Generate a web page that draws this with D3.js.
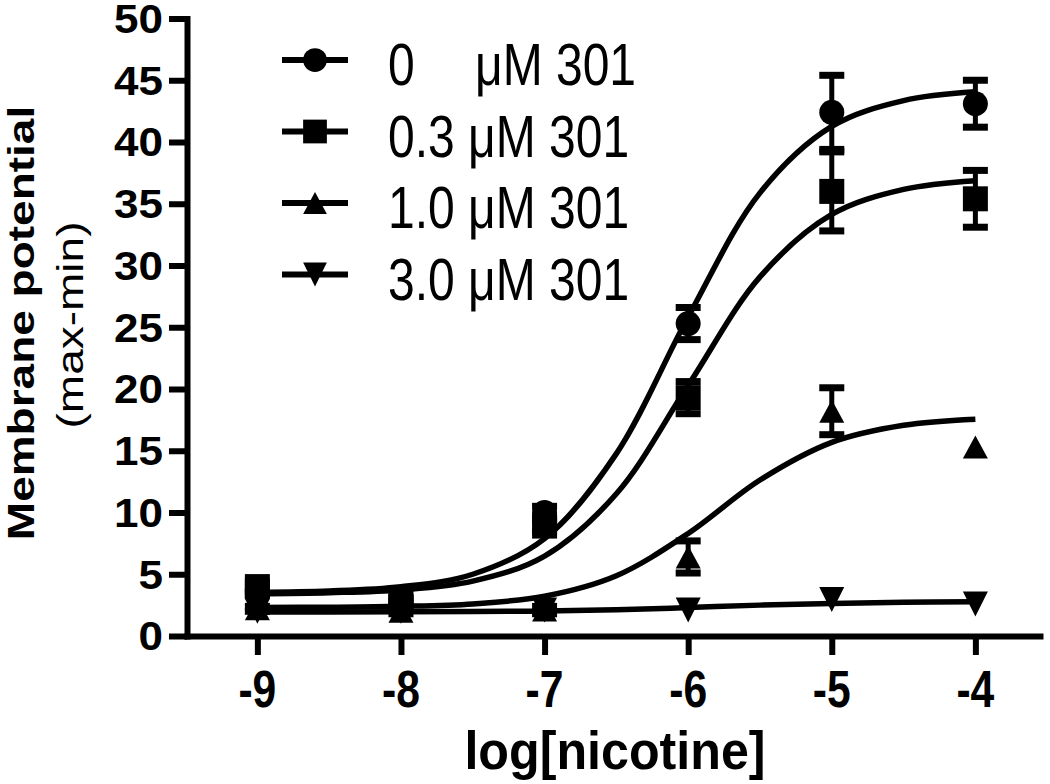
<!DOCTYPE html>
<html>
<head>
<meta charset="utf-8">
<script src="https://cdn.jsdelivr.net/npm/d3@7"></script>
<style>
  html, body { margin: 0; padding: 0; background: #fff; }
  svg { display: block; }
  text { font-family: "Liberation Sans", Arial, Helvetica, sans-serif; fill: #000; }
</style>
</head>
<body>
<svg id="chart" width="1050" height="784"></svg>
<script>
// ---------- data ----------
const logNicotine = [-9, -8, -7, -6, -5, -4];
const seriesNames = ["0", "0.3", "1.0", "3.0"];
const legendUnit = "\u03bcM 301";

const mean0   = [3.6, 2.8, 10.0, 25.3, 42.4, 43.1];
const sem0    = [0.3, 0.3, 0.5, 1.3, 3.0, 1.9];
const mean03  = [4.0, 2.8, 8.9, 19.3, 36.0, 35.4];
const sem03   = [0.4, 0.3, 0.4, 1.3, 3.2, 2.3];
const mean10  = [2.2, 2.0, 2.1, 6.4, 18.2, 15.3];
const sem10   = [0.2, 0.2, 0.3, 1.3, 1.9, 0];
const mean30  = [2.0, 2.0, 2.1, 2.1, 2.95, 2.6];
const sem30   = [0, 0, 0, 0, 0, 0];

// fitted curves, read at half-log steps
const curveX  = [-9, -8.5, -8, -7.5, -7, -6.5, -6, -5.5, -5, -4.5, -4];
const fit0    = [3.55, 3.65, 3.99, 5.00, 7.89, 14.77, 25.83, 35.88, 41.26, 43.35, 44.06];
const fit03   = [3.43, 3.51, 3.73, 4.44, 6.47, 11.52, 20.3, 29.08, 34.13, 36.16, 36.87];
const fit10   = [2.31, 2.33, 2.40, 2.60, 3.22, 4.88, 8.30, 12.63, 15.68, 17.06, 17.56];
const fit30   = [1.95, 1.95, 1.96, 1.98, 2.02, 2.12, 2.30, 2.50, 2.64, 2.73, 2.78];

const xTicks = [-9, -8, -7, -6, -5, -4];
const yTicks = [0, 5, 10, 15, 20, 25, 30, 35, 40, 45, 50];
const xTitle = "log[nicotine]";
const yTitle = "Membrane potential";
const ySubTitle = "(max-min)";

// ---------- drawing ----------
const svg = d3.select("#chart");
const x = d3.scaleLinear().domain([-9.49, -3.55]).range([187, 1040]);
const y = d3.scaleLinear().domain([0, 50]).range([636, 18.5]);
const SQ = 0.82; // horizontal squeeze of the original figure

// axes
const yAxis = d3.axisLeft(y).tickValues(yTicks).tickSize(18).tickSizeOuter(0).tickFormat("");
const gy = svg.append("g").attr("transform", "translate(187,0)").call(yAxis);
const xAxis = d3.axisBottom(x).tickValues(xTicks).tickSize(19).tickSizeOuter(0).tickFormat("");
const gx = svg.append("g").attr("transform", "translate(0,636)").call(xAxis);
[gx, gy].forEach(g => {
  g.selectAll("path.domain").attr("stroke", "#000").attr("stroke-width", 6).attr("stroke-linecap", "square");
  g.selectAll(".tick line").attr("stroke", "#000").attr("stroke-width", 6);
});

// y tick labels
svg.append("g").selectAll("g").data(yTicks).join("g")
  .attr("transform", d => `translate(163,${y(d)}) scale(1.1,1)`)
  .append("text")
  .attr("text-anchor", "end").attr("dy", "0.36em")
  .style("font-size", "40px").style("font-weight", "bold")
  .text(d => d);

// x tick labels
svg.append("g").selectAll("g").data(xTicks).join("g")
  .attr("transform", d => `translate(${x(d)},707) scale(${SQ},1)`)
  .append("text")
  .attr("text-anchor", "middle")
  .style("font-size", "52px").style("font-weight", "bold")
  .text(d => d);

// axis titles
svg.append("g").attr("transform", `translate(615,769) scale(0.93,1)`)
  .append("text").attr("text-anchor", "middle")
  .style("font-size", "54px").style("font-weight", "bold").text(xTitle);
svg.append("g").attr("transform", `translate(34,323) scale(${SQ},1) rotate(-90)`)
  .append("text").attr("text-anchor", "middle")
  .style("font-size", "46px").style("font-weight", "bold").text(yTitle);
svg.append("g").attr("transform", `translate(83,325) scale(${SQ},1) rotate(-90)`)
  .append("text").attr("text-anchor", "middle")
  .style("font-size", "46px").text(ySubTitle);

// marker shapes (bbox-centred)
function markerPath(kind) {
  if (kind === "circle") return d3.symbol(d3.symbolCircle, Math.PI * 12.5 * 12.5)();
  if (kind === "square") return "M-12.5,-12.5H12.5V12.5H-12.5Z";
  if (kind === "up") return "M0,-11.5L12.5,11.5L-12.5,11.5Z";
  return "M-12.5,-12.5L12.5,-12.5L0,12.5Z";
}

const series = [
  { name: seriesNames[0], mean: mean0,  sem: sem0,  fit: fit0,  kind: "circle" },
  { name: seriesNames[1], mean: mean03, sem: sem03, fit: fit03, kind: "square" },
  { name: seriesNames[2], mean: mean10, sem: sem10, fit: fit10, kind: "up" },
  { name: seriesNames[3], mean: mean30, sem: sem30, fit: fit30, kind: "down" }
];

const line = d3.line().x(d => x(d[0])).y(d => y(d[1])).curve(d3.curveCatmullRom.alpha(0.5));

series.forEach(s => {
  svg.append("path")
    .attr("d", line(curveX.map((cx, i) => [cx, s.fit[i]])))
    .attr("fill", "none").attr("stroke", "#000").attr("stroke-width", 5.5);
});

series.forEach(s => {
  const g = svg.append("g");
  const pts = logNicotine.map((lx, i) => ({ lx, m: s.mean[i], e: s.sem[i] }));
  const withErr = pts.filter(d => d.e > 0);
  g.selectAll(null).data(withErr).join("line")
    .attr("x1", d => x(d.lx)).attr("x2", d => x(d.lx))
    .attr("y1", d => y(d.m + d.e)).attr("y2", d => y(d.m - d.e))
    .attr("stroke", "#000").attr("stroke-width", 5);
  [1, -1].forEach(sign => {
    g.selectAll(null).data(withErr).join("line")
      .attr("x1", d => x(d.lx) - 12.5).attr("x2", d => x(d.lx) + 12.5)
      .attr("y1", d => y(d.m + sign * d.e)).attr("y2", d => y(d.m + sign * d.e))
      .attr("stroke", "#000").attr("stroke-width", 7);
  });
  g.selectAll(null).data(pts).join("path")
    .attr("d", markerPath(s.kind))
    .attr("transform", d => `translate(${x(d.lx)},${y(d.m)})`)
    .attr("fill", "#000");
});

// legend
const legendY = [60, 131.5, 203, 274.5];
series.forEach((s, i) => {
  const g = svg.append("g").attr("transform", `translate(0,${legendY[i]})`);
  g.append("line").attr("x1", 282).attr("x2", 348).attr("y1", 0).attr("y2", 0)
    .attr("stroke", "#000").attr("stroke-width", 6);
  g.append("path").attr("d", markerPath(s.kind)).attr("transform", "translate(315,0) scale(0.95)").attr("fill", "#000");
  if (i === 0) {
    g.append("g").attr("transform", `translate(388,25) scale(0.8,1)`)
      .append("text").style("font-size", "60px").text(s.name);
    g.append("g").attr("transform", `translate(475,25) scale(0.8,1)`)
      .append("text").style("font-size", "60px").text(legendUnit);
  } else {
    g.append("g").attr("transform", `translate(388,25) scale(0.8,1)`)
      .append("text").style("font-size", "60px").text(s.name + " " + legendUnit);
  }
});
</script>
</body>
</html>
